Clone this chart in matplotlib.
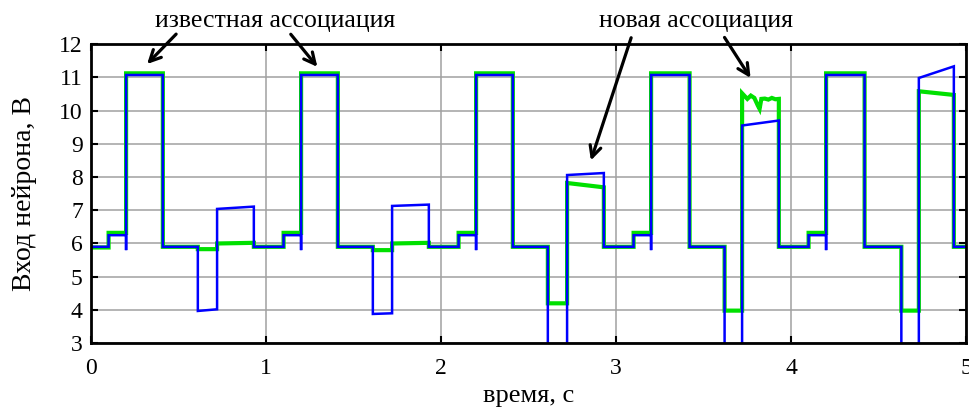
import matplotlib
matplotlib.use("Agg")
import matplotlib.pyplot as plt
import numpy as np

plt.rcParams['font.family'] = ['Liberation Serif', 'DejaVu Serif']

# segment edges, s
edges = [0, 0.1, 0.2, 0.41, 0.61, 0.72, 0.93,
         1.1, 1.2, 1.41, 1.61, 1.72, 1.93,
         2.1, 2.2, 2.41, 2.61, 2.72, 2.93,
         3.1, 3.2, 3.42, 3.62, 3.72, 3.93,
         4.1, 4.2, 4.42, 4.63, 4.73, 4.93, 5.0]

# blue: level at start / end of each segment
blue_start = [5.9, 6.25, 11.07, 5.9, 3.97, 7.04,
              5.9, 6.25, 11.07, 5.9, 3.88, 7.13,
              5.9, 6.25, 11.07, 5.9, 2.0, 8.06,
              5.9, 6.25, 11.07, 5.9, 2.0, 9.55,
              5.9, 6.25, 11.07, 5.9, 2.0, 10.98, 5.9]
blue_end = [5.9, 6.25, 11.07, 5.9, 4.02, 7.11,
            5.9, 6.25, 11.07, 5.9, 3.9, 7.17,
            5.9, 6.25, 11.07, 5.9, 2.0, 8.12,
            5.9, 6.25, 11.07, 5.9, 2.0, 9.7,
            5.9, 6.25, 11.07, 5.9, 2.0, 11.33, 5.9]
blue_spike_t = [0.2, 1.2, 2.2, 3.2, 4.2]
blue_spike_v = 5.8

# green
green_start = [5.88, 6.32, 11.12, 5.9, 5.83, 6.0,
               5.9, 6.32, 11.12, 5.9, 5.8, 6.0,
               5.9, 6.32, 11.12, 5.9, 4.2, 7.82,
               5.9, 6.32, 11.12, 5.9, 3.98, 10.52,
               5.9, 6.32, 11.12, 5.9, 3.98, 10.58, 5.9]
green_end = [5.88, 6.32, 11.12, 5.9, 5.83, 6.02,
             5.9, 6.32, 11.12, 5.9, 5.8, 6.02,
             5.9, 6.32, 11.12, 5.9, 4.2, 7.69,
             5.9, 6.32, 11.12, 5.9, 3.98, 10.35,
             5.9, 6.32, 11.12, 5.9, 3.98, 10.47, 5.9]
# uneven part of the green trace, 3.72..3.93 s
green_wobble_t = [3.75, 3.77, 3.79, 3.81, 3.82, 3.83, 3.85, 3.87, 3.89, 3.91]
green_wobble_v = [10.35, 10.45, 10.38, 10.15, 10.05, 10.35, 10.36, 10.33, 10.38, 10.34]


def build(start, end, spikes=None, wobble=None):
    t, v = [], []
    for i in range(len(start)):
        a, b = edges[i], edges[i + 1]
        if spikes is not None and a in spikes:
            t.append(a)
            v.append(blue_spike_v)
        t.append(a)
        v.append(start[i])
        if wobble is not None and a == 3.72:
            t.extend(wobble[0])
            v.extend(wobble[1])
        t.append(b)
        v.append(end[i])
    return t, v


gt, gv = build(green_start, green_end, wobble=(green_wobble_t, green_wobble_v))
bt, bv = build(blue_start, blue_end, spikes=blue_spike_t)

fig = plt.figure(figsize=(9.69, 4.12), dpi=100)
ax = fig.add_axes([0.094, 0.167, 0.903, 0.726])

ax.plot(gt, gv, color='#00e000', lw=3.0, solid_joinstyle='miter')
ax.plot(bt, bv, color='#0000ff', lw=1.8, solid_joinstyle='miter')

ax.set_xlim(0, 5)
ax.set_ylim(3, 12)
ax.set_xticks(np.arange(0, 6, 1))
ax.set_yticks(np.arange(3, 13, 1))
ax.grid(True, color='#a0a0a0', lw=1.1)
ax.set_axisbelow(True)
ax.tick_params(direction='in', length=5, width=1.5, top=True, right=True,
               labelsize=17)
ax.tick_params(axis='x', pad=11)
ax.tick_params(axis='y', pad=6)
for s in ax.spines.values():
    s.set_linewidth(2)

ax.set_xlabel('время, с', fontsize=19, labelpad=4)
ax.set_ylabel('Вход нейрона, В', fontsize=20, labelpad=16)

arrow = dict(arrowstyle='->,head_length=0.8,head_width=0.4', color='black', lw=2.3)
ax.text(1.051, 12.7, 'известная ассоциация', fontsize=18.5, ha='center', va='center')
ax.text(3.457, 12.7, 'новая ассоциация', fontsize=18.5, ha='center', va='center')
ax.annotate('', xy=(0.309, 11.34), xytext=(0.497, 12.36), arrowprops=arrow,
            annotation_clip=False)
ax.annotate('', xy=(1.303, 11.25), xytext=(1.131, 12.36), arrowprops=arrow,
            annotation_clip=False)
ax.annotate('', xy=(2.851, 8.42), xytext=(3.091, 12.27), arrowprops=arrow,
            annotation_clip=False)
ax.annotate('', xy=(3.777, 10.91), xytext=(3.611, 12.27), arrowprops=arrow,
            annotation_clip=False)

fig.savefig('out.png', dpi=100)
